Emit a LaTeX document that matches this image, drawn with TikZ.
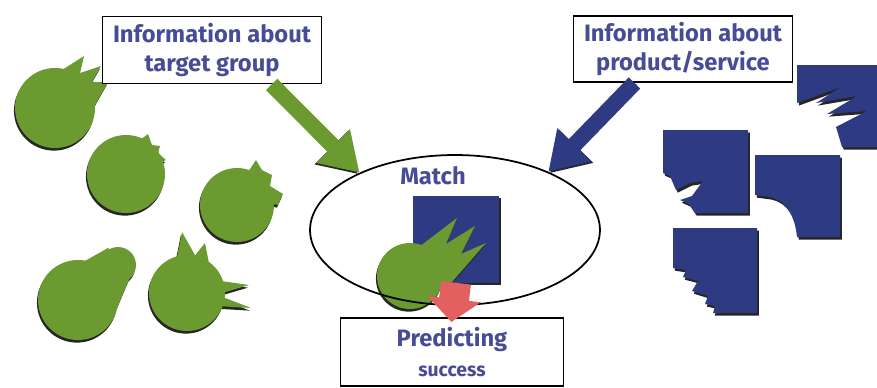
\documentclass[tikz,border=0pt]{standalone}
\usepackage{fontspec}
\setmainfont{Fira Sans}
\usetikzlibrary{shapes.geometric,arrows.meta}

\definecolor{leaf}{HTML}{6A9A30}
\definecolor{navy}{HTML}{2E3A82}
\definecolor{inkblue}{HTML}{474C96}
\definecolor{coral}{HTML}{E2605F}

\tikzset{
  infobox/.style={draw, line width=1.1pt, fill=white, inner sep=0pt, align=center,
    text=inkblue, font=\fontsize{13.5}{17}\selectfont\bfseries},
  budshade/.style={fill=black!85, transform canvas={xshift=-0.6pt, yshift=-1.5pt}},
  budfill/.style={fill=leaf},
  bluepart/.style={fill=navy, preaction={fill=black!85, transform canvas={xshift=1pt, yshift=-1.5pt}}},
  fatarrow/.style={line width=0.32cm, -{Triangle[length=7.5mm 0, width=9mm 0]}},
  % green pieces, drawn twice: once as shadow, once in colour
  pics/budA/.style={code={
    \fill (55,108) circle (40);
    \fill (62,70) -- (84,56) -- (80,73) -- (101,66) -- (92,82) -- (108,82) -- (95,105) -- (60,112) -- cycle;
  }},
  pics/budB/.style={code={
    \fill (126,174) circle (39);
    \fill (140,140) -- (148,134) -- (152,145) -- (160,146) -- (158,153) -- (166,160) -- (150,168) -- cycle;
  }},
  pics/budC/.style={code={
    \fill (237,205) circle (37);
    \fill (248,172) -- (256,160) -- (262,170) -- (272,175) -- (270,186) -- (283,194) -- (278,205) -- (255,200) -- cycle;
  }},
  pics/budD/.style={code={
    \fill (78,300) circle (40);
    \fill (118,265) circle (18);
    \fill (60,275) -- (108,248) -- (134,268) -- (112,320) -- cycle;
  }},
  pics/budE/.style={code={
    \fill (187,293) circle (38);
    \fill (176,262) -- (182,232) -- (196,257) -- cycle;
    \fill (193,258) -- (205,243) -- (210,268) -- cycle;
    \fill (214,280) -- (249,285) -- (222,293) -- cycle;
    \fill (220,296) -- (251,308) -- (217,306) -- cycle;
  }},
  pics/budM/.style={code={
    \fill (410,276) circle (33);
    \fill (415,250) -- (457,218) -- (446,244) -- (475,226) -- (461,254) -- (486,243) -- (452,282) -- (420,290) -- cycle;
  }},
}

\begin{document}
\begin{tikzpicture}[x=0.02cm, y=-0.02cm]
	\useasboundingbox (0,0) rectangle (877,387);

	% target group
	\foreach \b in {budA,budB,budC,budD,budE} {
		\pic[budshade] {\b};
		\pic[budfill] {\b};
	}

	% products / services
	\fill [bluepart] (797,65) -- (877,65) -- (877,147) -- (842,147) -- (836,127) -- (867,111) -- (827,114)
		-- (857,96) -- (816,103) -- (841,87) -- (797,103) -- cycle;
	\fill [bluepart] (663,130) -- (748,130) -- (748,213) -- (695,213) -- (689,204) -- (680,200) -- (692,196)
		-- (703,181) -- (690,183) -- (676,190) -- (670,176) -- (663,173) -- cycle;
	\fill [bluepart] (755,155) -- (840,155) -- (840,237) -- (797,237) .. controls (795,215) and (785,200) .. (770,197)
		-- (755,195) -- cycle;
	\fill [bluepart] (673,228) -- (757,228) -- (757,313) -- (713,313) -- (715,306) -- (705,304) -- (708,296)
		-- (692,291) -- (698,281) -- (683,277) -- (686,270) -- (673,268) -- cycle;

	% the match
	\node [bluepart, inner sep=0pt, minimum size=1.74cm] (prod) at (456,239) {};
	\pic[budshade] {budM};
	\pic[budfill] {budM};
	\node [draw, ellipse, line width=1pt, inner sep=0pt, minimum width=5.8cm, minimum height=3cm] (match) at (455,230) {};
	\node [text=inkblue, font=\fontsize{13.5}{15}\selectfont\bfseries] (matchlbl) at (433,176) {Match};

	% boxes
	\node [infobox, minimum width=4.38cm, minimum height=1.34cm] (group) at (212,50) {Information about\\target group};
	\node [infobox, minimum width=4.38cm, minimum height=1.32cm] (service) at (683,49) {Information about\\product/service};
	\node [infobox, minimum width=4.46cm, minimum height=1.36cm] (predict) at (452,352)
		{Predicting\\{\fontsize{11}{16}\selectfont success}};

	% arrows
	\draw [fatarrow, leaf, preaction={draw=black!85, transform canvas={xshift=-1pt, yshift=-0.8pt}}]
		(group.-30) -- (match.149);
	\draw [fatarrow, navy, preaction={draw=black!85, transform canvas={xshift=1pt, yshift=-0.8pt}}]
		(service.215) -- (match.32);
	\draw [coral, line width=0.6cm, -{Triangle[length=4.6mm 0, width=10.5mm 0]}, shorten >=-0.1cm]
		(prod.south) -- (predict.north);
\end{tikzpicture}
\end{document}
